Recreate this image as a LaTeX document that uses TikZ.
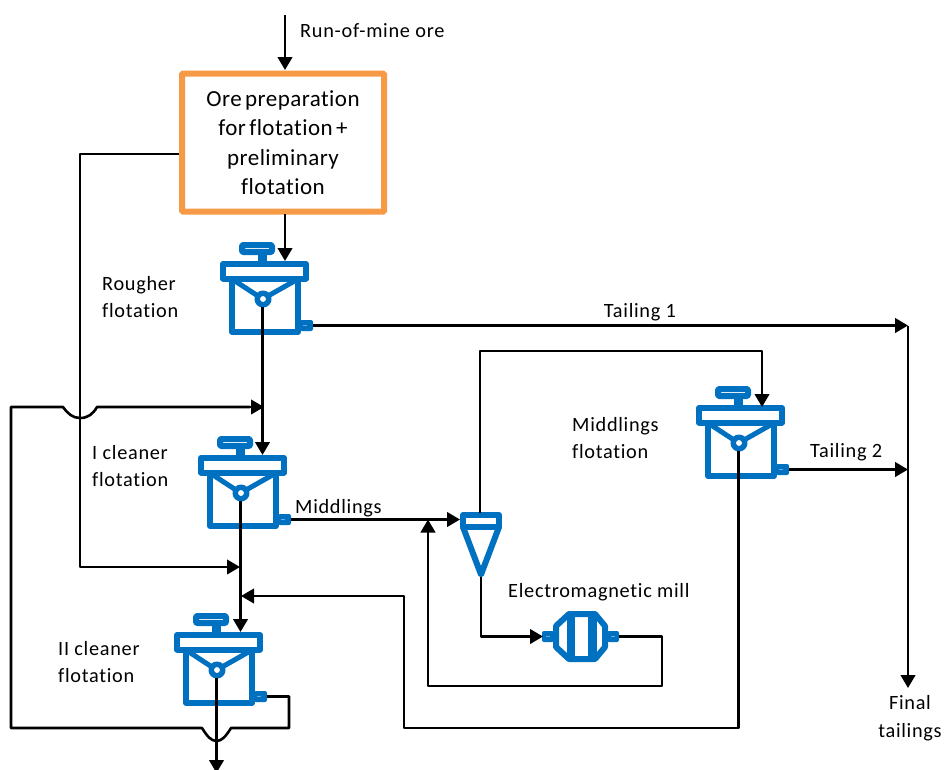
\documentclass[tikz,border=0pt]{standalone}
\usepackage{fontspec}
\setmainfont{Carlito}[LetterSpace=3.5,Ligatures=NoCommon]
\newfontfamily\boxfont{Carlito}[LetterSpace=2,Ligatures=NoCommon,WordSpace=0.6]
\usetikzlibrary{arrows.meta,calc}
\definecolor{cellblue}{HTML}{0070C0}
\definecolor{nozzlemark}{HTML}{6FA8DC}
\definecolor{boxorange}{HTML}{F79A46}
\tikzset{
  flow/.style={draw=black,line width=2.6pt,line join=round},
  arr/.style={flow,-{Triangle[length=13pt,width=14.5pt]}},
  unit/.style={draw=cellblue,line width=6pt,line join=round,fill=white},
  thin unit/.style={draw=cellblue,line width=5pt,line join=round},
  lab/.style={font=\fontsize{20.3}{27}\selectfont,align=left,anchor=west,inner sep=0pt},
  labc/.style={font=\fontsize{20.3}{28}\selectfont,align=center,inner sep=0pt},
  nozzle/.style={fill=cellblue,rounded corners=2pt},
  cell/.pic={
    \draw[unit] (-31,-20) rectangle (35,33);
    \draw[thin unit] (-31,-20) -- (-5,-3) (35,-20) -- (5,-3);
    \fill[cellblue] (-5,-44) rectangle (4,-36);
    \draw[unit,line width=6pt,rounded corners=1pt] (-21,-54) rectangle (9,-47);
    \draw[unit] (-40,-35) rectangle (43,-20.5);
    \draw[unit,line width=5.5pt] (0,0) circle (5.75);
    \fill[nozzle] (37,21) rectangle (50,32);
    \draw[nozzlemark,line width=1pt] (40,26.5) -- (44,26.5);
    \coordinate (-top) at (0,-38);
    \coordinate (-out) at (-0.5,8);
    \coordinate (-side) at (50,26.5);
  }
}
\begin{document}
\begin{tikzpicture}[x=1pt,y=-1pt]
\useasboundingbox (0,0) rectangle (944,769);

% ---- units
\node[draw=boxorange,line width=6pt,rounded corners=1pt,minimum width=202pt,minimum height=138pt,
  inner sep=0pt,font=\fontsize{23}{29.5}\boxfont,align=center] (box) at (283,142.5)
  {Ore preparation\\for flotation +\\preliminary\\flotation};
\pic (r) at (263,299) {cell};
\pic (c) at (241,493) {cell};
\pic (d) at (217,670) {cell};
\pic (m) at (739,443) {cell};

% hydrocyclone
\draw[unit] (463,515) -- (499,515) -- (499,527) -- (463,527) -- cycle;
\draw[unit,fill=none] (463,527) -- (481,574.5) -- (499,527);
\coordinate (cy-in) at (460,519.5);
\coordinate (cy-top) at (480,513);
\coordinate (cy-tip) at (481,577);

% mill
\draw[unit] (569,614) -- (595,614) -- (605,626) -- (605,647) -- (595,659) -- (569,659) -- (556,647) -- (556,626) -- cycle;
\fill[cellblue] (567,612) rectangle (575,661);
\fill[cellblue] (588,612) rectangle (597,661);
\fill[nozzle] (542,631) rectangle (554,642);
\fill[nozzle] (607,631) rectangle (619,642);
\draw[nozzlemark,line width=1pt] (546,636.5) -- (550,636.5) (611,636.5) -- (615,636.5);
\coordinate (mill-in) at (543,636.5);
\coordinate (mill-out) at (619,636.5);

% ---- free ends
\coordinate (ore) at (285,15);
\coordinate (boxin) at (285,70);
\coordinate (boxout) at (285,214);
\coordinate (rin) at (285,261);
\coordinate (tail) at (908,325.5);
\coordinate (tail2) at (908,469.5);
\coordinate (final) at (908,688);
\coordinate (mergeA) at (240,567);
\coordinate (mergeB) at (241,596);
\coordinate (dout) at (216.5,773);
\coordinate (rec) at (264,407);
\coordinate (cin) at (428,519.5);
\coordinate (min) at (762,407);
\coordinate (dentry) at (241,632);

% ---- connectors
\draw[arr] (ore) -- (boxin);
\draw[arr] (boxout) -- (rin);
\draw[arr] (box.west |- 0,154) -- (80,154) -- (80,567) -- (mergeA);
\draw[arr] (r-side) -- (tail);
\draw[arr] (r-out) -- (r-out |- c-top);
\draw[arr] (c-out) -- (c-out |- dentry);
\draw[arr] (d-out) -- (dout);
\draw[arr] (c-side) -- (cy-in);
\draw[arr] (cy-top) -- (480,351) -- (762,351) -- (min);
\draw[arr] (cy-tip) -- (481,636.5) -- (mill-in);
\draw[arr] (mill-out) -- (662,636.5) -- (662,686) -- (428,686) -- (cin);
\draw[arr] (m-side) -- (tail2);
\draw[arr] (m-out) -- (738.5,728) -- (404,728) -- (404,596) -- (mergeB);
\draw[arr] (tail) -- (final);
\draw[flow] (d-side) -- (289,696.5) -- (289,728) -- (231,728)
  .. controls (226,736) and (222,741) .. (216.5,741)
  .. controls (211,741) and (207,736) .. (202,728)
  -- (11,728) -- (11,407) -- (63,407)
  .. controls (68,414) and (73,418) .. (80,418)
  .. controls (88,418) and (93,414) .. (97,407)
  -- (250,407);
\draw[arr] (97,407) -- (rec);

% ---- labels
\node[lab] (t1) at (300,31) {Run-of-mine ore};
\node[lab] (t2) at (102,297.5) {Rougher\\flotation};
\node[labc] (t3) at (640,312) {Tailing 1};
\node[lab] (t4) at (572,438) {Middlings\\flotation};
\node[lab] (t5) at (810,452) {Tailing 2};
\node[lab] (t6) at (92,466) {I cleaner\\flotation};
\node[lab] (t7) at (295,508.5) {Middlings};
\node[lab] (t8) at (508,592.5) {Electromagnetic mill};
\node[lab] (t9) at (58,662.5) {II cleaner\\flotation};
\node[labc] (t10) at (910,718) {Final\\tailings};
\end{tikzpicture}
\end{document}
